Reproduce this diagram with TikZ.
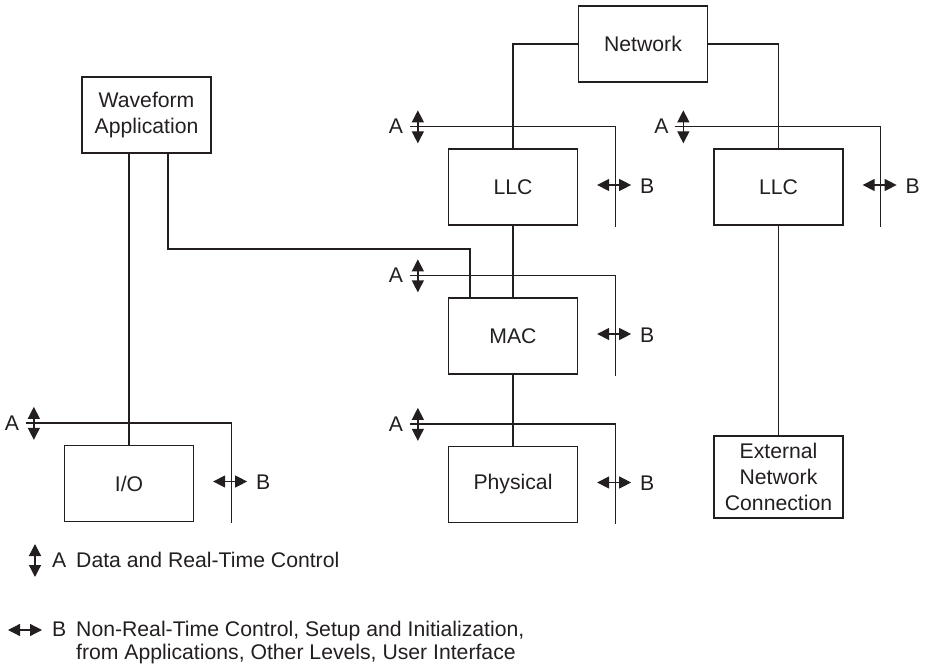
\documentclass[tikz,border=0pt]{standalone}
\usepackage{fontspec}
\setmainfont{Liberation Sans}
\usetikzlibrary{arrows.meta}
\definecolor{ink}{RGB}{35,31,32}

\tikzset{
  blk/.style={draw, line width=1.3pt, minimum width=129pt, minimum height=76pt,
    align=center, inner sep=0pt, font=\fontsize{21.2}{26}\selectfont},
  wire/.style={line width=1.3pt},
  lbl/.style={inner sep=0pt, font=\fontsize{21.2}{26}\selectfont},
  dbl/.style={line width=1.3pt,
    {Triangle[length=12pt,width=12pt]}-{Triangle[length=12pt,width=12pt]}},
}

% Control bus beside a block: A line over the top, B arrow on the right
\newcommand\ctlbus[1]{%
  \coordinate (#1-a0) at ([xshift=-38pt,yshift=22pt]#1.north west);
  \coordinate (#1-a1) at ([xshift=37pt,yshift=22pt]#1.north east);
  \coordinate (#1-a2) at ([xshift=37pt,yshift=-1pt]#1.south east);
  \draw[wire] (#1-a0) -- (#1-a1) -- (#1-a2);
  \draw[dbl] ([xshift=-30pt,yshift=38pt]#1.north west) -- ([xshift=-30pt,yshift=5pt]#1.north west);
  \node[lbl] (#1-A) at ([xshift=-52pt,yshift=22pt]#1.north west) {A};
  \draw[dbl] ([xshift=19pt,yshift=2pt]#1.east) -- ([xshift=53pt,yshift=2pt]#1.east);
  \node[lbl] (#1-B) at ([xshift=69pt,yshift=1pt]#1.east) {B};
}

\begin{document}
\begin{tikzpicture}[x=1pt, y=-1pt, color=ink]
  \useasboundingbox (0,0) rectangle (927,666);

  % blocks
  \node[blk] (net)   at (643,44)    {Network};
  \node[blk] (wave)  at (146.5,115) {Waveform\\Application};
  \node[blk] (llc1)  at (513,187)   {LLC};
  \node[blk] (llc2)  at (778.5,187) {LLC};
  \node[blk] (mac)   at (513,336)   {MAC};
  \node[blk] (phys)  at (513,484.5) {Physical};
  \node[blk] (io)    at (129,483.5) {I/O};
  \node[blk, minimum height=82pt, text depth=0pt] (ext) at (778.5,477)
    {External\\Network\\Connection};

  % connections
  \draw[wire] (net.west) -| (llc1.north);
  \draw[wire] (net.east) -| (llc2.north);
  \draw[wire] (llc1.south) -- (mac.north);
  \draw[wire] (mac.south) -- (phys.north);
  \draw[wire] (llc2.south) -- (ext.north);
  \draw[wire] (io.north |- wave.south) -- (io.north);
  \coordinate (wj) at (168,249);
  \draw[wire] (wave.south -| wj) -- (wj) -| ([xshift=-43pt]mac.north);

  % control buses
  \ctlbus{llc1}
  \ctlbus{llc2}
  \ctlbus{mac}
  \ctlbus{phys}
  \ctlbus{io}

  % legend
  \draw[dbl] (35,544) -- (35,577);
  \node[lbl, anchor=base west] (legA)  at (52,567.5) {A};
  \node[lbl, anchor=base west] (legAt) at (76,567.5) {Data and Real-Time Control};
  \draw[dbl] (8,630) -- (42,630);
  \node[lbl, anchor=base west] (legB)  at (52,636.5) {B};
  \node[lbl, anchor=base west] (legBt1) at (76,636.5) {Non-Real-Time Control, Setup and Initialization,};
  \node[lbl, anchor=base west] (legBt2) at (76,659) {from Applications, Other Levels, User Interface};
\end{tikzpicture}
\end{document}
